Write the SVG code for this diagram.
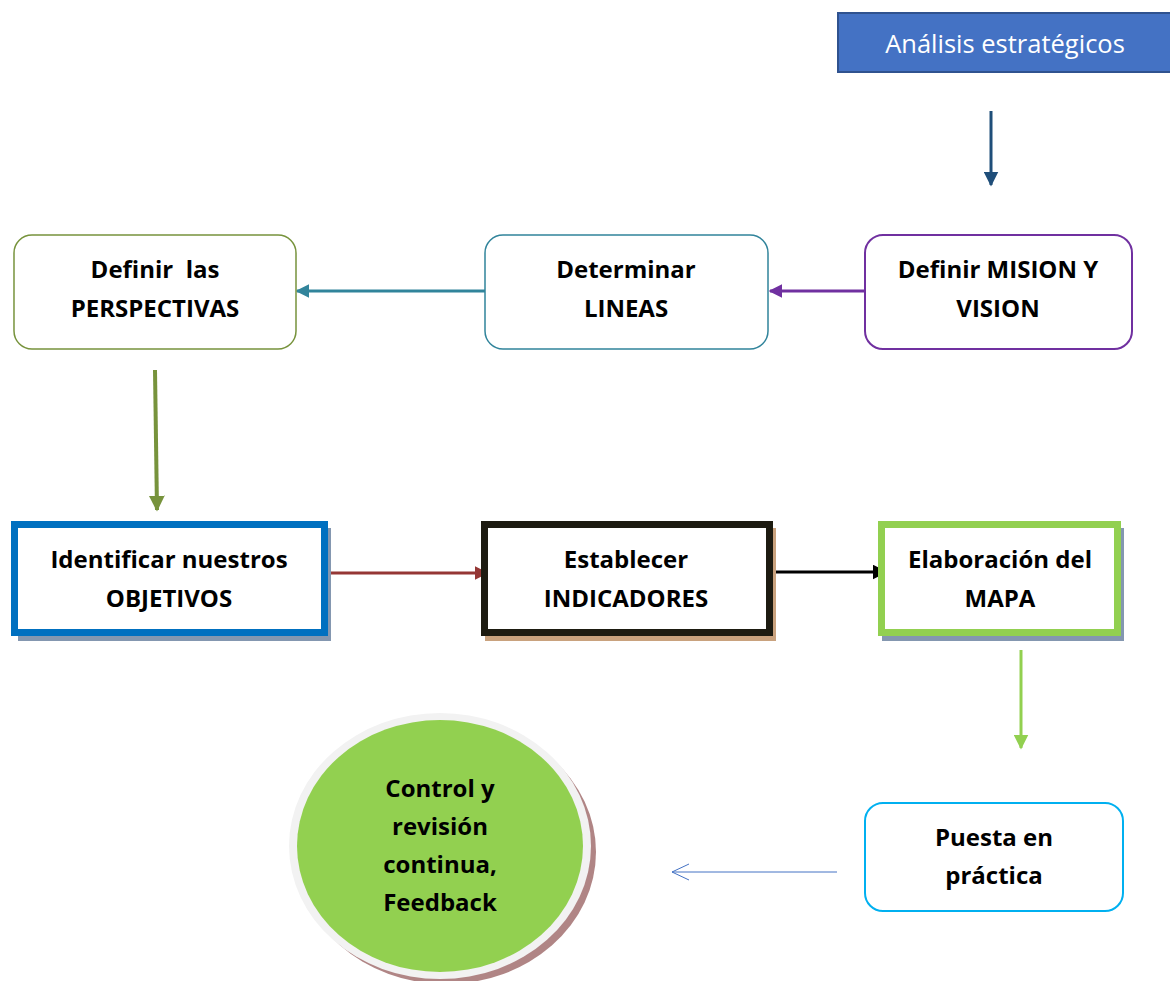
<svg xmlns="http://www.w3.org/2000/svg" width="1170" height="981" viewBox="0 0 1170 981">
<style>
.t{font-family:"Open Sans","Noto Sans",sans-serif;font-weight:bold;font-size:24px;fill:#000;text-anchor:middle}
.w{font-family:"Open Sans","Noto Sans",sans-serif;font-size:25.5px;fill:#fff;text-anchor:middle}
</style>
<defs>
<marker id="aDB" viewBox="0 0 10 10" refX="9" refY="5" markerWidth="5" markerHeight="5" orient="auto"><path d="M0,0 L10,5 L0,10 z" fill="#1F4E79"/></marker>
<marker id="aP" viewBox="0 0 10 10" refX="9" refY="5" markerWidth="4.5" markerHeight="4.5" orient="auto"><path d="M0,0 L10,5 L0,10 z" fill="#7030A0"/></marker>
<marker id="aT" viewBox="0 0 10 10" refX="9" refY="5" markerWidth="4.5" markerHeight="4.5" orient="auto"><path d="M0,0 L10,5 L0,10 z" fill="#31849B"/></marker>
<marker id="aO" viewBox="0 0 10 10" refX="9" refY="5" markerWidth="4" markerHeight="4" orient="auto"><path d="M0,0 L10,5 L0,10 z" fill="#77933C"/></marker>
<marker id="aR" viewBox="0 0 10 10" refX="9" refY="5" markerWidth="4.5" markerHeight="4.5" orient="auto"><path d="M0,0 L10,5 L0,10 z" fill="#953735"/></marker>
<marker id="aK" viewBox="0 0 10 10" refX="9" refY="5" markerWidth="5" markerHeight="5" orient="auto"><path d="M0,0 L10,5 L0,10 z" fill="#000"/></marker>
<marker id="aG" viewBox="0 0 10 10" refX="9" refY="5" markerWidth="5" markerHeight="5" orient="auto"><path d="M0,0 L10,5 L0,10 z" fill="#92D050"/></marker>
<marker id="aB" viewBox="0 0 20 20" refX="19" refY="10" markerWidth="20" markerHeight="20" markerUnits="userSpaceOnUse" orient="auto"><path d="M2,2 L19,10 L2,18" fill="none" stroke="#4472C4" stroke-width="1"/></marker>
</defs>

<g id="connectors" fill="none">
<line x1="991" y1="111" x2="991" y2="185" stroke="#1F4E79" stroke-width="3" marker-end="url(#aDB)"/>
<line x1="865" y1="291" x2="770" y2="291" stroke="#7030A0" stroke-width="3" marker-end="url(#aP)"/>
<line x1="485" y1="291" x2="297" y2="291" stroke="#31849B" stroke-width="3" marker-end="url(#aT)"/>
<line x1="155" y1="370" x2="157" y2="510" stroke="#77933C" stroke-width="4" marker-end="url(#aO)"/>
<line x1="328" y1="573" x2="487" y2="573" stroke="#953735" stroke-width="3" marker-end="url(#aR)"/>
<line x1="773" y1="572" x2="886" y2="572" stroke="#000" stroke-width="3" marker-end="url(#aK)"/>
<line x1="1021" y1="650" x2="1021" y2="748" stroke="#92D050" stroke-width="3" marker-end="url(#aG)"/>
<line x1="837" y1="872" x2="672" y2="872" stroke="#4472C4" stroke-width="1" marker-end="url(#aB)"/>
</g>

<g id="analisis">
<rect x="838" y="13" width="340" height="59" fill="#4472C4" stroke="#2F528F" stroke-width="2"/>
<text class="w" x="1005" y="53">Análisis estratégicos</text>
</g>

<g id="mision">
<rect x="865" y="235" width="267" height="114" rx="18" fill="#fff" stroke="#7030A0" stroke-width="2"/>
<text class="t" x="998" y="278">Definir MISION Y</text>
<text class="t" x="998" y="317">VISION</text>
</g>

<g id="lineas">
<rect x="485" y="235" width="283" height="114" rx="18" fill="#fff" stroke="#31849B" stroke-width="1.5"/>
<text class="t" x="626" y="278">Determinar</text>
<text class="t" x="626" y="317">LINEAS</text>
</g>

<g id="perspectivas">
<rect x="14" y="235" width="282" height="114" rx="18" fill="#fff" stroke="#77933C" stroke-width="1.5"/>
<text class="t" x="155" y="278" xml:space="preserve">Definir  las</text>
<text class="t" x="155" y="317">PERSPECTIVAS</text>
</g>

<g id="objetivos">
<rect x="18" y="528" width="313" height="113" fill="#8497B0"/>
<rect x="14.5" y="524.5" width="310" height="108" fill="#fff" stroke="#0070C0" stroke-width="7"/>
<text class="t" x="169" y="568">Identificar nuestros</text>
<text class="t" x="169" y="607">OBJETIVOS</text>
</g>

<g id="indicadores">
<rect x="485" y="528" width="291" height="113" fill="#C9A27E"/>
<rect x="484.5" y="524.5" width="285" height="108" fill="#fff" stroke="#1D1B11" stroke-width="7"/>
<text class="t" x="626" y="568">Establecer</text>
<text class="t" x="626" y="607">INDICADORES</text>
</g>

<g id="mapa">
<rect x="882" y="528" width="242" height="113" fill="#8497B0"/>
<rect x="881.5" y="524.5" width="236" height="108" fill="#fff" stroke="#92D050" stroke-width="7"/>
<text class="t" x="1000" y="568">Elaboración del</text>
<text class="t" x="1000" y="607">MAPA</text>
</g>

<g id="puesta">
<rect x="865" y="803" width="258" height="108" rx="18" fill="#fff" stroke="#00B0F0" stroke-width="2"/>
<text class="t" x="994" y="846">Puesta en</text>
<text class="t" x="994" y="884">práctica</text>
</g>

<g id="control">
<ellipse cx="446" cy="852" rx="150" ry="132" fill="#B08585"/>
<ellipse cx="440" cy="846" rx="151" ry="133" fill="#F2F2F2"/>
<ellipse cx="440" cy="846" rx="143" ry="126" fill="#92D050"/>
<text class="t" x="440" y="797">Control y</text>
<text class="t" x="440" y="835">revisión</text>
<text class="t" x="440" y="873">continua,</text>
<text class="t" x="440" y="911">Feedback</text>
</g>
</svg>
